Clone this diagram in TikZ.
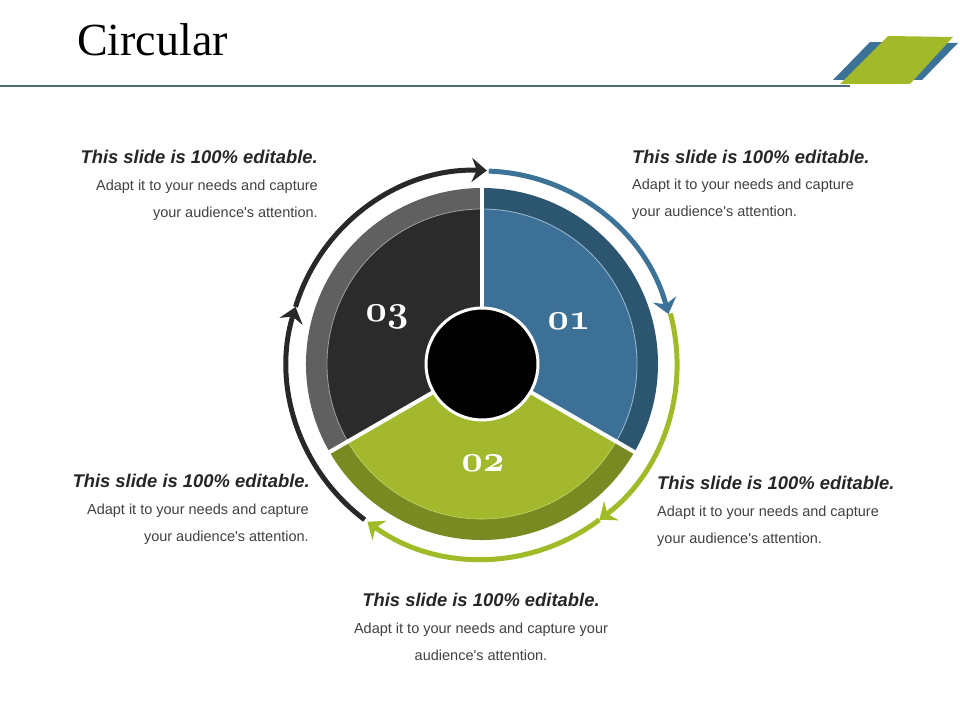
\documentclass[tikz,border=0pt]{standalone}
\usepackage{fontspec}
\setmainfont{Liberation Sans}
\newfontfamily\titlefont{Liberation Serif}
\usetikzlibrary{arrows.meta,calc}
\definecolor{bluemain}{HTML}{3D7096}
\definecolor{bluerim}{HTML}{2C5670}
\definecolor{bluelite}{HTML}{9DBBD2}
\definecolor{greenmain}{HTML}{A3B82C}
\definecolor{greenrim}{HTML}{7A8A22}
\definecolor{greenlite}{HTML}{C4D46A}
\definecolor{blackmain}{HTML}{2B2B2B}
\definecolor{blackrim}{HTML}{606060}
\definecolor{blacklite}{HTML}{A0A0A0}
\definecolor{arrblue}{HTML}{3E7398}
\definecolor{arrgreen}{HTML}{A0BB28}
\definecolor{arrblack}{HTML}{282828}
\definecolor{headc}{HTML}{262626}
\definecolor{bodyc}{HTML}{404040}
\definecolor{titleline}{HTML}{4F6B78}
\definecolor{logoblue}{HTML}{3C7298}
\definecolor{logogreen}{HTML}{A2BA2A}
\newcommand\mynum[1]{{\fontsize{10}{12}\usefont{OML}{cmm}{b}{it}#1}}
\begin{document}
\begin{tikzpicture}[x=1pt,y=1pt,
  head/.style={font=\fontsize{18.4}{22}\selectfont\bfseries\itshape, text=headc, inner sep=0},
  body/.style={font=\fontsize{14.5}{17}\selectfont, text=bodyc, inner sep=0},
  num/.style={text=white, inner sep=0, anchor=base, scale=3.7},
  ring/.style={line width=5pt},
  tip/.style={-{Stealth[length=15pt,width=24pt,inset=5pt]}}]
\useasboundingbox (0,0) rectangle (960,720);
\coordinate (O) at (482,356);
% title
\node[anchor=base west, inner sep=0] (title) at (77,664) {\titlefont\fontsize{46}{50}\selectfont Circular};
\coordinate (L0) at (0,634);
\coordinate (L1) at (850,634);
\draw[titleline, line width=2.5pt] (L0) -- (L1);
% logo
\fill[logoblue] (833,640) -- (870,678) -- (958,677) -- (922,640) -- cycle;
\fill[logogreen] (840,636) -- (888,684) -- (953,683) -- (910,636) -- cycle;
% sectors
\fill[bluerim] (O) -- ($(O)+(90:176)$) arc (90:-30:176) -- cycle;
\fill[bluemain] (O) -- ($(O)+(90:155)$) arc (90:-30:155) -- cycle;
\draw[bluelite, line width=0.8pt] ($(O)+(90:155)$) arc (90:-30:155);
\fill[greenrim] (O) -- ($(O)+(-30:176)$) arc (-30:-150:176) -- cycle;
\fill[greenmain] (O) -- ($(O)+(-30:155)$) arc (-30:-150:155) -- cycle;
\draw[greenlite, line width=0.6pt] ($(O)+(-30:155)$) arc (-30:-150:155);
\fill[blackrim] (O) -- ($(O)+(210:176)$) arc (210:90:176) -- cycle;
\fill[blackmain] (O) -- ($(O)+(210:155)$) arc (210:90:155) -- cycle;
\draw[blacklite, line width=0.8pt] ($(O)+(210:155)$) arc (210:90:155);
\foreach \a in {90,-30,210} \draw[white, line width=4pt] (O) -- ($(O)+(\a:178)$);
\fill[black] (O) circle (55);
\draw[white, line width=3pt] (O) circle (56);
% numbers
\node[num] (n1) at (569,390) {\mynum{01}};
\node[num] (n2) at (483,248) {\mynum{02}};
\node[num] (n3) at (387,398) {\mynum{03}};
% arrows
\draw[arrblue, ring, tip] ($(O)+(88:193)$) arc (88:15:193);
\draw[arrgreen, ring, tip] ($(O)+(15:195)$) arc (15:-53:195);
\draw[arrgreen, ring, tip] ($(O)+(-53:195)$) arc (-53:-126:195);
\draw[arrblack, ring, tip] ($(O)+(233:195)$) arc (233:163:195);
\draw[arrblack, ring, tip] ($(O)+(163:195)$) arc (163:88:193);
% text blocks
\node[head, anchor=base east] (tlh) at (318,556) {This slide is 100\% editable.};
\node[body, anchor=base east] (tl1) at (318,529) {Adapt it to your needs and capture};
\node[body, anchor=base east] (tl2) at (318,502) {your audience\textquotesingle s attention.};
\node[head, anchor=base west] (trh) at (632,556) {This slide is 100\% editable.};
\node[body, anchor=base west] (tr1) at (632,530) {Adapt it to your needs and capture};
\node[body, anchor=base west] (tr2) at (632,503) {your audience\textquotesingle s attention.};
\node[head, anchor=base east] (blh) at (310,232) {This slide is 100\% editable.};
\node[body, anchor=base east] (bl1) at (309,205) {Adapt it to your needs and capture};
\node[body, anchor=base east] (bl2) at (309,178) {your audience\textquotesingle s attention.};
\node[head, anchor=base west] (brh) at (657,230) {This slide is 100\% editable.};
\node[body, anchor=base west] (br1) at (657,203) {Adapt it to your needs and capture};
\node[body, anchor=base west] (br2) at (657,176) {your audience\textquotesingle s attention.};
\node[head, anchor=base] (bh) at (481,114) {This slide is 100\% editable.};
\node[body, anchor=base] (b1) at (481,87) {Adapt it to your needs and capture your};
\node[body, anchor=base] (b2) at (481,60) {audience\textquotesingle s attention.};
\end{tikzpicture}
\end{document}
